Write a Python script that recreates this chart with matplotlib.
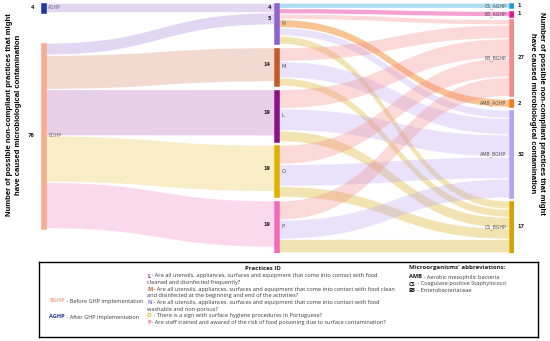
import numpy as np
import matplotlib.pyplot as plt
from matplotlib.path import Path
from matplotlib.patches import PathPatch, Rectangle

# ---------------- data ----------------
left_nodes = ['AGHP', 'BGHP']
left_values = [4, 76]
mid_nodes = ['N', 'M', 'L', 'O', 'P']
right_nodes = ['CS_AGHP', 'EB_AGHP', 'EB_BGHP', 'AMB_AGHP', 'AMB_BGHP', 'CS_BGHP']
right_values = [1, 1, 27, 2, 32, 17]

# phase -> practice
stage1_src = ['AGHP', 'BGHP', 'BGHP', 'BGHP', 'BGHP', 'BGHP']
stage1_tgt = ['N', 'N', 'M', 'L', 'O', 'P']
stage1_val = [4, 5, 14, 19, 19, 19]

# practice -> microorganism (band widths as drawn, order = right_nodes)
n_out = [2, 2, 2, 3, 3, 3]
m_out = [0, 0, 5, 0, 6, 3]
l_out = [0, 0, 7, 0, 8, 4]
o_out = [0, 0, 7, 0, 8, 4]
p_out = [0, 0, 7, 0, 7, 5]
stage2 = [n_out, m_out, l_out, o_out, p_out]

node_colors = {
    'AGHP': '#1f36a8', 'BGHP': '#f9ab8c',
    'N': '#8f63cf', 'M': '#c45a2a', 'L': '#8a1287', 'O': '#e0b100', 'P': '#f36bb6',
    'CS_AGHP': '#1b9fd8', 'EB_AGHP': '#e8168f', 'EB_BGHP': '#f58b8b',
    'AMB_AGHP': '#f27c12', 'AMB_BGHP': '#b9a2f0', 'CS_BGHP': '#d6a300',
}
link_alpha = {
    'N': 0.25, 'M': 0.22, 'L': 0.2, 'O': 0.22, 'P': 0.25,
    'CS_AGHP': 0.35, 'EB_AGHP': 0.4, 'EB_BGHP': 0.32,
    'AMB_AGHP': 0.45, 'AMB_BGHP': 0.3, 'CS_BGHP': 0.3,
}

practice_ids = ['L', 'M', 'N', 'O', 'P']
practice_first = [
    'Are all utensils, appliances, surfaces and equipment that come into contact with food',
    'Are all utensils, appliances, surfaces and equipment that come into contact with food clean',
    'Are all utensils, appliances, surfaces and equipment that come into contact with food',
    'There is a sign with surface hygiene procedures in Portuguese?',
    'Are staff trained and awared of the risk of food poisoning due to surface contamination?',
]
practice_second = [
    'cleaned and disinfected frequently?',
    'and disinfected at the beginning and end of the activities?',
    'washable and non-porous?',
    None, None,
]
micro_abbr = ['AMB', 'CS', 'EB']
micro_desc = ['Aerobic mesophilic bacteria', 'Coagulase-positive Staphylococci', 'Enterobacteriaceae']
phase_desc = ['Before GHP implementation', 'After GHP implementation']

axis_title = 'Number of possible non-compliant practices that might\nhave caused microbiological contamination'

# ---------------- layout ----------------
col_x = [0.0, 0.4926, 0.9894]
node_w = 0.0106
left_scale = 0.89
left_gap = 11.0
pad_right = 1.0
inset = 0.22

mid_in = {m: 0.0 for m in mid_nodes}
for s, t, v in zip(stage1_src, stage1_tgt, stage1_val):
    mid_in[t] += v * left_scale
mid_out = [sum(r) for r in stage2]
mid_size = [max(mid_in[m], o) for m, o in zip(mid_nodes, mid_out)]
right_size = [sum(r[j] for r in stage2) for j in range(len(right_nodes))]

total = sum(right_size) + pad_right * (len(right_nodes) - 1)
pad_mid = (total - sum(mid_size)) / (len(mid_nodes) - 1)

def stack(sizes, pad):
    tops, y = [], 0.0
    for s in sizes:
        tops.append(y)
        y += s + pad
    return tops

left_size = [v * left_scale for v in left_values]
left_top = stack(left_size, left_gap)
mid_top = stack(mid_size, pad_mid)
right_top = stack(right_size, pad_right)

fig = plt.figure(figsize=(5.5, 3.41), dpi=100)
ax = fig.add_axes([41 / 550, 88 / 341, 473 / 550, 250 / 341])
ax.set_xlim(0, 1)
ax.set_ylim(total, 0)
ax.axis('off')


def band(x0, x1, a0, b0, a1, b1, color, alpha):
    xm = (x0 + x1) / 2
    a0, b0, a1, b1 = a0 + inset, b0 - inset, a1 + inset, b1 - inset
    verts = [(x0, a0), (xm, a0), (xm, a1), (x1, a1), (x1, b1),
             (xm, b1), (xm, b0), (x0, b0), (x0, a0)]
    codes = [Path.MOVETO, Path.CURVE4, Path.CURVE4, Path.CURVE4, Path.LINETO,
             Path.CURVE4, Path.CURVE4, Path.CURVE4, Path.CLOSEPOLY]
    ax.add_patch(PathPatch(Path(verts, codes), facecolor=color, alpha=alpha,
                           edgecolor='none', zorder=1))


# stage 1 links
left_cursor = dict(zip(left_nodes, left_top))
mid_cursor = dict(zip(mid_nodes, mid_top))
for s, t, v in zip(stage1_src, stage1_tgt, stage1_val):
    h = v * left_scale
    y0 = left_cursor[s]
    y1 = mid_cursor[t]
    band(col_x[0] + node_w, col_x[1], y0, y0 + h, y1, y1 + h, node_colors[t], link_alpha[t])
    ax.annotate(str(v), (col_x[1], y1 + h / 2), xytext=(-2.2, 0), textcoords='offset points',
                ha='right', va='center', fontsize=3.6, fontweight='bold', color='#222')
    left_cursor[s] += h
    mid_cursor[t] += h

# stage 2 links
right_cursor = list(right_top)
for i, row in enumerate(stage2):
    y0 = mid_top[i]
    for j, v in enumerate(row):
        if v == 0:
            continue
        y1 = right_cursor[j]
        band(col_x[1] + node_w, col_x[2], y0, y0 + v, y1, y1 + v,
             node_colors[right_nodes[j]], link_alpha[right_nodes[j]])
        y0 += v
        right_cursor[j] += v


def node(x, top, size, name):
    c = node_colors[name]
    ax.add_patch(Rectangle((x, top), node_w, size, facecolor=c, edgecolor=c,
                           linewidth=0.4, zorder=3))


for name, top, size, v in zip(left_nodes, left_top, left_size, left_values):
    node(col_x[0], top, size, name)
    ax.annotate(str(v), (col_x[0], top + size / 2), xytext=(-5, 0), textcoords='offset points',
                ha='right', va='center', fontsize=3.6, fontweight='bold', color='#222')
    ax.annotate(name, (col_x[0] + node_w, top + size / 2), xytext=(1.5, 0), textcoords='offset points',
                ha='left', va='center', fontsize=3.3, color='#666')

for name, top, size in zip(mid_nodes, mid_top, mid_size):
    node(col_x[1], top, size, name)
    ax.annotate(name, (col_x[1] + node_w, top + size / 2), xytext=(1.8, 0), textcoords='offset points',
                ha='left', va='center', fontsize=3.8, color='#555')

for name, top, size, v in zip(right_nodes, right_top, right_size, right_values):
    node(col_x[2], top, size, name)
    ax.annotate(name, (col_x[2], top + size / 2), xytext=(-1.8, 0), textcoords='offset points',
                ha='right', va='center', fontsize=3.4, color='#555')
    ax.annotate(str(v), (col_x[2] + node_w, top + size / 2), xytext=(2.5, 0), textcoords='offset points',
                ha='left', va='center', fontsize=3.6, fontweight='bold', color='#222')

# axis titles
fig.text(14 / 550, 1 - 115 / 341, axis_title, rotation=90, ha='center', va='center',
         fontsize=5.6, fontweight='bold', family='Liberation Sans', linespacing=1.45,
         multialignment='center')
fig.text(537 / 550, 1 - 113 / 341, axis_title, rotation=-90, ha='center', va='center',
         fontsize=5.6, fontweight='bold', family='Liberation Sans', linespacing=1.45,
         multialignment='center')

# ---------------- legend box ----------------
lg = fig.add_axes([39 / 550, 4 / 341, 499 / 550, 75 / 341])
lg.set_xlim(0, 499)
lg.set_ylim(75, 0)
lg.set_xticks([])
lg.set_yticks([])
for sp in lg.spines.values():
    sp.set_linewidth(1.0)
    sp.set_color('black')

fs = 4.1
tc = '#3a3a3a'
fam = 'Open Sans'


def colored_line(x, y, head, head_color, tail):
    t = lg.text(x, y, head, ha='left', va='center', fontsize=fs, fontweight='bold',
                color=head_color, family=fam)
    lg.annotate(tail, xy=(1, 0.5), xycoords=t, ha='left', va='center',
                fontsize=fs, color=tc, family=fam)


lg.text(224, 6, 'Practices ID', ha='center', va='center', fontsize=4.4,
        fontweight='bold', color='#222', family=fam)
lg.text(467, 6, "Microorganisms' abbreviations:", ha='right', va='center', fontsize=4.4,
        fontweight='bold', color='#222', family=fam)

y = 14
for pid, first, second in zip(practice_ids, practice_first, practice_second):
    colored_line(108, y, pid, node_colors[pid], ' - ' + first)
    y += 6.6
    if second:
        lg.text(108, y, second, ha='left', va='center', fontsize=fs, color=tc, family=fam)
        y += 6.6

for i, (ab, d) in enumerate(zip(micro_abbr, micro_desc)):
    colored_line(370, 15 + 7 * i, ab, '#111', ' - ' + d)

for i, (ph, d) in enumerate(zip(['BGHP', 'AGHP'], phase_desc)):
    colored_line(10, 39 + 16 * i, ph, node_colors[ph] if ph == 'BGHP' else '#1f2f8f', ' - ' + d)

fig.savefig('out.png', dpi=100)
